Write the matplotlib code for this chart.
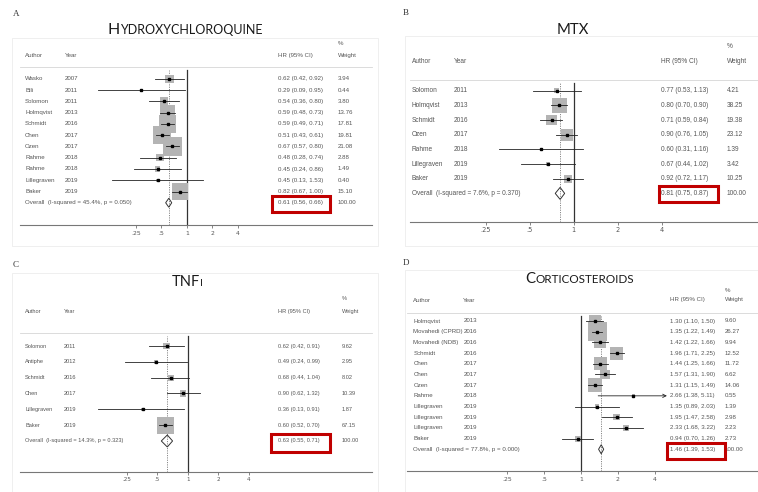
import numpy as np
import matplotlib.pyplot as plt
import matplotlib.transforms as mtrans
from matplotlib.patches import Polygon, Rectangle
from matplotlib.ticker import NullLocator

W, H = 758, 492

# A - hidroxicloroquina
autores_a = ["Wasko", "Bili", "Solomon", "Holmqvist", "Schmidt", "Chen", "Ozen",
             "Rahme", "Rahme", "Lillegraven", "Baker"]
anos_a = [2007, 2011, 2011, 2013, 2016, 2017, 2017, 2018, 2018, 2019, 2019]
hr_a = [0.62, 0.29, 0.54, 0.59, 0.59, 0.51, 0.67, 0.48, 0.45, 0.45, 0.82]
lo_a = [0.42, 0.09, 0.36, 0.48, 0.49, 0.43, 0.57, 0.28, 0.24, 0.13, 0.67]
hi_a = [0.92, 0.95, 0.80, 0.73, 0.71, 0.61, 0.80, 0.74, 0.86, 1.53, 1.00]
peso_a = [3.94, 0.44, 3.80, 13.76, 17.81, 19.81, 21.08, 2.88, 1.49, 0.40, 15.10]
total_a = [0.61, 0.56, 0.66]
het_a = "Overall  (I-squared = 45.4%, p = 0.050)"

# B - MTX
autores_b = ["Solomon", "Holmqvist", "Schmidt", "Ozen", "Rahme", "Lillegraven", "Baker"]
anos_b = [2011, 2013, 2016, 2017, 2018, 2019, 2019]
hr_b = [0.77, 0.80, 0.71, 0.90, 0.60, 0.67, 0.92]
lo_b = [0.53, 0.70, 0.59, 0.76, 0.31, 0.44, 0.72]
hi_b = [1.13, 0.90, 0.84, 1.05, 1.16, 1.02, 1.17]
peso_b = [4.21, 38.25, 19.38, 23.12, 1.39, 3.42, 10.25]
total_b = [0.81, 0.75, 0.87]
het_b = "Overall  (I-squared = 7.6%, p = 0.370)"

# C - TNFi
autores_c = ["Solomon", "Antiphe", "Schmidt", "Chen", "Lillegraven", "Baker"]
anos_c = [2011, 2012, 2016, 2017, 2019, 2019]
hr_c = [0.62, 0.49, 0.68, 0.90, 0.36, 0.60]
lo_c = [0.42, 0.24, 0.44, 0.62, 0.13, 0.52]
hi_c = [0.91, 0.99, 1.04, 1.32, 0.91, 0.70]
peso_c = [9.62, 2.95, 8.02, 10.39, 1.87, 67.15]
total_c = [0.63, 0.55, 0.71]
het_c = "Overall  (I-squared = 14.3%, p = 0.323)"

# D - corticoides
autores_d = ["Holmqvist", "Movahedi (CPRD)", "Movahedi (NDB)", "Schmidt", "Chen", "Chen",
             "Ozen", "Rahme", "Lillegraven", "Lillegraven", "Lillegraven", "Baker"]
anos_d = [2013, 2016, 2016, 2016, 2017, 2017, 2017, 2018, 2019, 2019, 2019, 2019]
hr_d = [1.30, 1.35, 1.42, 1.96, 1.44, 1.57, 1.31, 2.66, 1.35, 1.95, 2.33, 0.94]
lo_d = [1.10, 1.22, 1.22, 1.71, 1.25, 1.31, 1.15, 1.38, 0.89, 1.47, 1.68, 0.70]
hi_d = [1.50, 1.49, 1.66, 2.25, 1.66, 1.90, 1.49, 5.11, 2.03, 2.58, 3.22, 1.26]
peso_d = [9.60, 26.27, 9.94, 12.52, 11.72, 6.62, 14.06, 0.55, 1.39, 2.98, 2.23, 2.73]
total_d = [1.46, 1.39, 1.53]
het_d = "Overall  (I-squared = 77.8%, p = 0.000)"

ticks = [0.25, 0.5, 1, 2, 4]
tick_labels = [".25", ".5", "1", "2", "4"]

# geometria de cada painel em pixels da imagem
paineis = [
    dict(letra="A", dados=(autores_a, anos_a, hr_a, lo_a, hi_a, peso_a, total_a, het_a),
         L=20, R=372, x1=187, ppd=25.5, y0=79, dy=11.25, ytop=67, ybot=225,
         cols=(25, 65, 278, 338), yhead=56, ypct=44, fs=4.4, box=19, dia=4.5,
         lab=(13, 14), titulo=("H", "YDROXYCHLOROQUINE", 11.5, 9.0), tpos=(185, 33.5),
         caixa=(271.7, 196, 330, 212.3), clip=None, borda=(12, 38, 378, 246)),
    dict(letra="B", dados=(autores_b, anos_b, hr_b, lo_b, hi_b, peso_b, total_b, het_b),
         L=410, R=758, x1=573.5, ppd=44, y0=90.7, dy=14.67, ytop=80, ybot=221.7,
         cols=(412, 454, 661, 727), yhead=61.7, ypct=46.7, fs=4.7, box=15, dia=6,
         lab=(403, 13), titulo=("MTX", "", 10.7, 8), tpos=(573, 33.5),
         caixa=(659.3, 185.7, 718.3, 202.3), clip=None, borda=(405, 36, 770, 246)),
    dict(letra="C", dados=(autores_c, anos_c, hr_c, lo_c, hi_c, peso_c, total_c, het_c),
         L=20, R=372, x1=187.7, ppd=30.6, y0=346, dy=15.83, ytop=333, ybot=471.7,
         cols=(25, 64, 278, 341.7), yhead=311.7, ypct=298, fs=4.1, box=17, dia=6,
         lab=(13, 265), titulo=("TNF", "I", 10.5, 7.5), tpos=(187, 285.5),
         caixa=(270.7, 434.3, 330, 452.3), clip=None, borda=(12, 273, 378, 500)),
    dict(letra="D", dados=(autores_d, anos_d, hr_d, lo_d, hi_d, peso_d, total_d, het_d),
         L=407, R=758, x1=581, ppd=37, y0=321, dy=10.69, ytop=313, ybot=471,
         cols=(413.3, 463.3, 670, 725), yhead=300, ypct=290, fs=4.4, box=19, dia=4.5,
         lab=(403, 263), titulo=("C", "ORTICOSTEROIDS", 10.8, 8.4), tpos=(580, 283),
         caixa=(667.3, 443.3, 725, 459), clip=5.0, borda=(405, 270, 770, 500)),
]

cor_txt = "#555555"
fig = plt.figure(figsize=(W / 100, H / 100), dpi=100)
fig.patch.set_facecolor("white")
rend = fig.canvas.get_renderer()


def fx(x):
    return x / W


def fy(y):
    return 1 - y / H


def titulo_versalete(cx, cy, grande, resto, fs1, fs2):
    t1 = fig.text(0, 0, grande, fontsize=fs1, family="Lato", color="#1a1a1a", va="baseline")
    t2 = fig.text(0, 0, resto, fontsize=fs2, family="Lato", color="#1a1a1a", va="baseline")
    w1 = t1.get_window_extent(rend).width if grande else 0
    w2 = t2.get_window_extent(rend).width if resto else 0
    x0 = cx - (w1 + w2) / 2
    t1.set_position((fx(x0), fy(cy)))
    t2.set_position((fx(x0 + w1), fy(cy)))


def desenha_painel(p):
    autores, anos, hr, lo, hi, peso, total, het = p["dados"]
    L, R, x1, ppd = p["L"], p["R"], p["x1"], p["ppd"]
    y0, dy, yt, yb = p["y0"], p["dy"], p["ytop"], p["ybot"]

    # moldura clarinha do painel
    bx0, by0, bx1, by1 = p["borda"]
    fig.add_artist(Rectangle((fx(bx0), fy(by1)), fx(bx1 - bx0), (by1 - by0) / H,
                             transform=fig.transFigure, fill=False, ec="#ececec", lw=0.6))

    ax = fig.add_axes([fx(L), fy(yb), (R - L) / W, (yb - yt) / H])
    ax.set_xscale("log", base=2)
    ax.set_xlim(2 ** ((L - x1) / ppd), 2 ** ((R - x1) / ppd))
    ax.set_ylim((yb - y0) / dy, (yt - y0) / dy)
    ax.patch.set_alpha(0)

    def ly(py):
        return (py - y0) / dy

    tr = mtrans.blended_transform_factory(ax.transAxes, ax.transData)

    def cx(px):
        return (px - L) / (R - L)

    ca, cyr, chr_, cw = p["cols"]
    fs = p["fs"]
    kw = dict(transform=tr, fontsize=fs, color=cor_txt, va="center", ha="left",
              clip_on=False, family="Liberation Sans")

    # cabecalho
    ax.text(cx(ca), ly(p["yhead"]), "Author", **kw)
    ax.text(cx(cyr), ly(p["yhead"]), "Year", **kw)
    ax.text(cx(chr_), ly(p["yhead"]), "HR (95% CI)", **kw)
    ax.text(cx(cw), ly(p["yhead"]), "Weight", **kw)
    ax.text(cx(cw), ly(p["ypct"]), "%", **kw)

    n = len(autores)
    wmax = max(peso)
    for i in range(n):
        ax.text(cx(ca), i, autores[i], **kw)
        ax.text(cx(cyr), i, str(anos[i]), **kw)
        ax.text(cx(chr_), i, f"{hr[i]:.2f} ({lo[i]:.2f}, {hi[i]:.2f})", **kw)
        ax.text(cx(cw), i, f"{peso[i]:.2f}", **kw)

        lado = p["box"] * np.sqrt(peso[i] / wmax) * 0.72
        ax.scatter([hr[i]], [i], marker="s", s=lado ** 2, color="#b4b4b4",
                   edgecolors="none", zorder=2)
        if p["clip"] is not None and hi[i] > p["clip"]:
            ax.annotate("", xy=(p["clip"], i), xytext=(lo[i], i),
                        arrowprops=dict(arrowstyle="->", lw=0.6, color="#222222",
                                        shrinkA=0, shrinkB=0, mutation_scale=6), zorder=3)
        else:
            ax.plot([lo[i], hi[i]], [i, i], color="#222222", lw=0.6, zorder=3)
        ax.plot([hr[i]], [i], marker="s", ms=1.6, color="black", zorder=4)

    # linha do total
    est, tlo, thi = total
    ax.text(cx(ca), n, het, **kw)
    ax.text(cx(chr_), n, f"{est:.2f} ({tlo:.2f}, {thi:.2f})", **kw)
    ax.text(cx(cw), n, "100.00", **kw)
    h = p["dia"] / dy
    ax.add_patch(Polygon([(tlo, n), (est, n - h), (thi, n), (est, n + h)], closed=True,
                         fill=False, ec="#333333", lw=0.7, zorder=4))

    frac = (yb - (yt + 3)) / (yb - yt)
    ax.axvline(1, ymin=0, ymax=frac, color="#333333", lw=0.9, zorder=1)
    ax.axvline(est, ymin=0, ymax=frac, color="#888888", lw=0.7, ls=(0, (1.2, 1.2)), zorder=1)

    for s in ["left", "right"]:
        ax.spines[s].set_visible(False)
    ax.spines["bottom"].set_color("#777777")
    ax.spines["bottom"].set_linewidth(0.8)
    ax.spines["top"].set_color("#d6d6d6")
    ax.spines["top"].set_linewidth(0.6)
    ax.set_yticks([])
    ax.set_xticks(ticks)
    ax.set_xticklabels(tick_labels)
    ax.xaxis.set_minor_locator(NullLocator())
    ax.tick_params(axis="x", labelsize=fs, length=2, width=0.5, pad=2,
                   colors="#555555", labelcolor=cor_txt)

    # caixa vermelha em volta do resultado geral
    rx0, ry0, rx1, ry1 = p["caixa"]
    fig.add_artist(Rectangle((fx(rx0), fy(ry1)), fx(rx1 - rx0), (ry1 - ry0) / H,
                             transform=fig.transFigure, fill=False, ec="#c00000", lw=2.2))

    # letra do painel e titulo
    fig.text(fx(p["lab"][0]), fy(p["lab"][1]), p["letra"], fontsize=6.5,
             family="Liberation Serif", color="#333333", ha="left", va="center")
    g, r, f1, f2 = p["titulo"]
    titulo_versalete(p["tpos"][0], p["tpos"][1], g, r, f1, f2)


for p in paineis:
    desenha_painel(p)

fig.savefig("out.png", dpi=100)
